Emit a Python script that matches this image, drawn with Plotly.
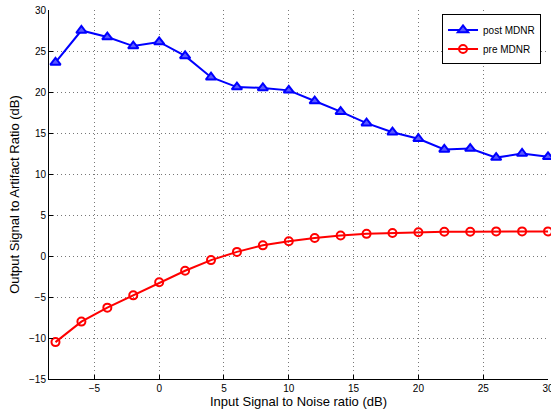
import plotly.graph_objects as go

snr_in = [-8, -6, -4, -2, 0, 2, 4, 6, 8, 10, 12, 14, 16, 18, 20, 22, 24, 26, 28, 30]
post_mdnr = [23.6, 27.5, 26.7, 25.6, 26.1, 24.4, 21.8, 20.6, 20.5, 20.2,
             18.9, 17.6, 16.2, 15.1, 14.3, 13.0, 13.1, 12.0, 12.5, 12.1]
pre_mdnr = [-10.5, -8.0, -6.3, -4.8, -3.2, -1.8, -0.5, 0.5, 1.3, 1.8,
            2.2, 2.5, 2.7, 2.8, 2.9, 2.95, 2.95, 3.0, 3.0, 3.0]
x_ticks = [-5, 0, 5, 10, 15, 20, 25, 30]
y_ticks = [-15, -10, -5, 0, 5, 10, 15, 20, 25, 30]

fig = go.Figure()
fig.add_trace(go.Scatter(
    x=snr_in, y=post_mdnr, name="post MDNR", mode="lines+markers",
    line=dict(color="#0000ff", width=2),
    marker=dict(symbol="triangle-up", size=9, color="rgba(90,90,255,1)",
                line=dict(color="#0000ff", width=2)),
    cliponaxis=False,
))
fig.add_trace(go.Scatter(
    x=snr_in, y=pre_mdnr, name="pre MDNR", mode="lines+markers",
    line=dict(color="#ff0000", width=2),
    marker=dict(symbol="circle-open", size=8, color="#ff0000",
                line=dict(color="#ff0000", width=2)),
    cliponaxis=False,
))

axis_common = dict(
    showgrid=True, gridcolor="#777777", griddash="1px,3px", gridwidth=1,
    zeroline=False, showline=True, linecolor="black", linewidth=1,
    ticks="inside", ticklen=4, tickcolor="black",
    tickfont=dict(family="Liberation Sans, Arial, sans-serif", size=10, color="black"),
    mirror=False, automargin=False, ticklabeloverflow="allow",
)

fig.update_layout(
    width=551, height=414,
    margin=dict(l=49, r=3, t=10, b=35),
    paper_bgcolor="white", plot_bgcolor="white",
    font=dict(family="Liberation Sans, Arial, sans-serif", color="black"),
    xaxis=dict(range=[-8.5, 30], tickvals=x_ticks,
               title=dict(text="Input Signal to Noise ratio (dB)", font=dict(size=13), standoff=2),
               **axis_common),
    yaxis=dict(range=[-15, 30], tickvals=y_ticks,
               title=dict(text="Output Signal to Artifact Ratio (dB)", font=dict(size=13), standoff=6),
               **axis_common),
    legend=dict(x=0.986, y=0.988, xanchor="right", yanchor="top",
                bgcolor="white", bordercolor="black", borderwidth=1,
                font=dict(size=10), tracegroupgap=0, itemwidth=30),
    showlegend=True,
)

fig.write_html("out.html", config={"displayModeBar": False},
               post_script="document.body.style.margin='0';document.body.style.overflow='hidden';")
